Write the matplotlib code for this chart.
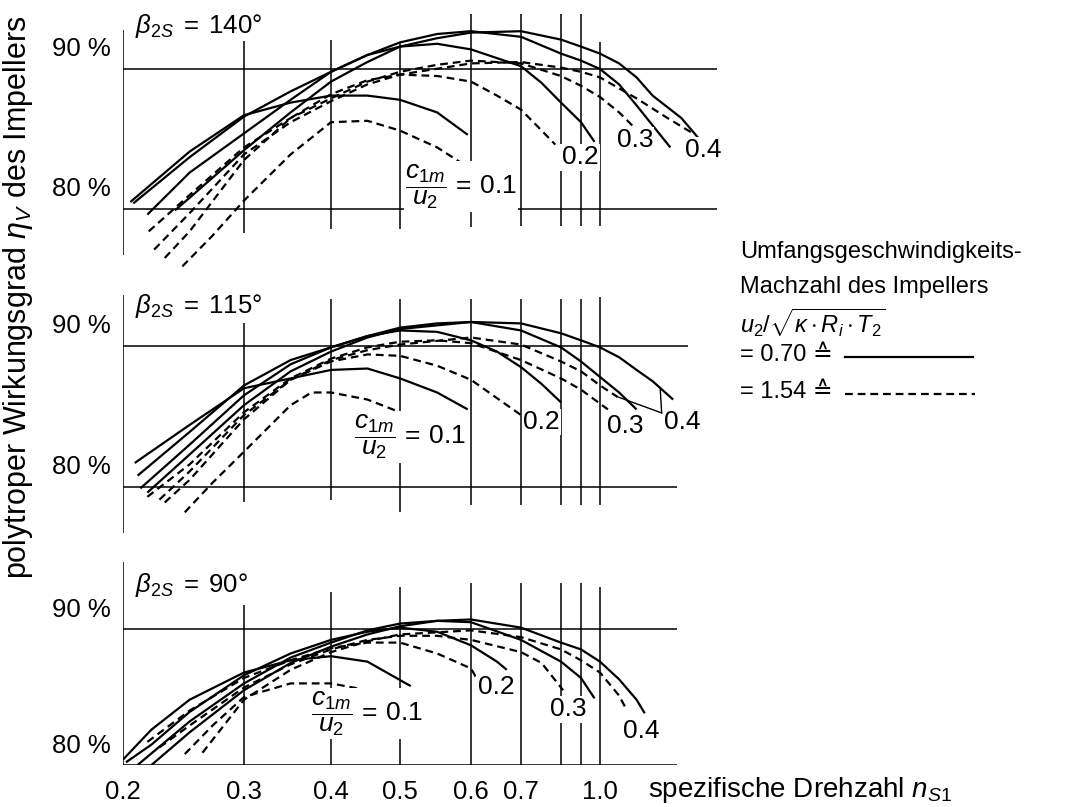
import numpy as np
import matplotlib
matplotlib.use("Agg")
import matplotlib.pyplot as plt
from matplotlib.lines import Line2D
from matplotlib.ticker import NullLocator

plt.rcParams['font.family'] = ['Liberation Sans', 'DejaVu Sans']
plt.rcParams['mathtext.fontset'] = 'custom'
plt.rcParams['mathtext.rm'] = 'Liberation Sans'
plt.rcParams['mathtext.it'] = 'Liberation Sans:italic'
plt.rcParams['mathtext.bf'] = 'Liberation Sans:bold'

# nomogram x scale (n_S1 value -> distance from 0.2 in px)
scale_ns = [0.1, 0.2, 0.3, 0.4, 0.5, 0.6, 0.7, 0.8, 0.9, 1.0, 2.0, 5.0]
scale_pos = [-207, 0, 121, 208, 277, 348, 398, 438, 458, 477, 616, 799]

xtick_vals = [0.2, 0.3, 0.4, 0.5, 0.6, 0.7, 1.0]
xtick_labels = ['0.2', '0.3', '0.4', '0.5', '0.6', '0.7', '1.0']
grid_ns = [0.3, 0.4, 0.5, 0.6, 0.7, 0.8, 0.9, 1.0]
ref_levels = [78.4, 88.4]

# ---- beta_2S = 140 deg ----
ns_140_s1 = [0.205, 0.25, 0.3, 0.35, 0.4, 0.45, 0.5, 0.55, 0.595]
eta_140_s1 = [78.9, 82.5, 85.1, 86.0, 86.5, 86.5, 86.2, 85.3, 83.7]
ns_140_s2 = [0.207, 0.25, 0.3, 0.35, 0.4, 0.45, 0.5, 0.55, 0.6, 0.7, 0.75, 0.8, 0.9, 0.97]
eta_140_s2 = [78.8, 82.1, 85.0, 86.8, 88.2, 89.4, 90.0, 90.2, 89.8, 88.6, 87.4, 86.0, 84.6, 83.2]
ns_140_s3 = [0.217, 0.25, 0.3, 0.35, 0.4, 0.45, 0.5, 0.55, 0.6, 0.7, 0.8, 0.9, 1.0, 1.1, 1.2, 1.42]
eta_140_s3 = [78.0, 81.0, 83.8, 86.2, 88.2, 89.4, 90.3, 90.9, 91.1, 90.7, 89.5, 89.0, 88.4, 87.3, 85.8, 82.8]
ns_140_s4 = [0.238, 0.25, 0.3, 0.35, 0.4, 0.45, 0.5, 0.55, 0.6, 0.7, 0.8, 0.9, 1.0, 1.1, 1.2, 1.3, 1.5, 1.65]
eta_140_s4 = [78.3, 79.2, 82.6, 85.3, 87.5, 88.9, 90.0, 90.6, 91.0, 91.1, 90.5, 90.0, 89.5, 88.8, 87.8, 86.5, 84.9, 83.3]
ns_140_d1 = [0.244, 0.27, 0.3, 0.35, 0.4, 0.45, 0.5, 0.55, 0.595]
eta_140_d1 = [74.3, 76.5, 79.0, 82.3, 84.6, 84.7, 84.0, 82.8, 81.4]
ns_140_d2 = [0.23, 0.25, 0.3, 0.35, 0.4, 0.45, 0.5, 0.55, 0.6, 0.65, 0.7, 0.75, 0.785]
eta_140_d2 = [74.9, 76.8, 81.9, 84.9, 86.6, 87.6, 88.0, 87.9, 87.5, 86.5, 85.5, 84.0, 83.0]
ns_140_d3 = [0.218, 0.25, 0.3, 0.35, 0.4, 0.45, 0.5, 0.55, 0.6, 0.7, 0.8, 0.9, 1.0, 1.1, 1.18]
eta_140_d3 = [76.8, 79.4, 82.8, 84.9, 86.3, 87.5, 88.2, 88.7, 89.0, 88.8, 87.9, 87.2, 86.4, 85.3, 84.3]
ns_140_d4 = [0.222, 0.25, 0.3, 0.35, 0.4, 0.45, 0.5, 0.6, 0.7, 0.8, 0.9, 1.0, 1.2, 1.4, 1.59]
eta_140_d4 = [75.5, 78.1, 82.3, 84.6, 86.1, 87.3, 88.0, 88.8, 88.9, 88.5, 88.2, 87.8, 86.3, 84.9, 83.8]

# ---- beta_2S = 115 deg ----
ns_115_s1 = [0.208, 0.25, 0.3, 0.35, 0.4, 0.45, 0.5, 0.55, 0.595]
eta_115_s1 = [80.1, 82.8, 85.4, 86.1, 86.7, 86.8, 86.1, 85.1, 83.9]
ns_115_s2 = [0.21, 0.25, 0.3, 0.35, 0.4, 0.45, 0.5, 0.55, 0.6, 0.65, 0.7, 0.75, 0.8]
eta_115_s2 = [79.2, 82.3, 85.6, 87.4, 88.3, 89.1, 89.5, 89.4, 88.8, 88.0, 86.9, 85.7, 84.4]
ns_115_s3 = [0.212, 0.25, 0.3, 0.35, 0.4, 0.45, 0.5, 0.55, 0.6, 0.7, 0.8, 0.9, 1.0, 1.1, 1.2]
eta_115_s3 = [78.3, 81.4, 84.9, 87.1, 88.3, 89.1, 89.7, 90.0, 90.1, 89.5, 88.3, 87.3, 86.2, 85.1, 83.9]
ns_115_s4 = [0.217, 0.25, 0.3, 0.35, 0.4, 0.45, 0.5, 0.6, 0.7, 0.8, 0.9, 1.0, 1.1, 1.2, 1.3, 1.44]
eta_115_s4 = [78.0, 80.7, 84.2, 86.6, 88.0, 89.0, 89.6, 90.1, 90.0, 89.3, 88.8, 88.3, 87.6, 86.7, 85.9, 84.6]
ns_115_d1 = [0.246, 0.27, 0.3, 0.35, 0.375, 0.4, 0.45, 0.5, 0.53]
eta_115_d1 = [76.6, 78.7, 80.9, 84.2, 85.1, 85.1, 84.6, 83.7, 83.1]
ns_115_d2 = [0.23, 0.25, 0.3, 0.35, 0.4, 0.45, 0.5, 0.55, 0.6, 0.65, 0.7]
eta_115_d2 = [77.3, 78.9, 83.2, 86.0, 87.3, 87.8, 87.7, 87.0, 86.0, 84.7, 83.5]
ns_115_d3 = [0.217, 0.25, 0.3, 0.35, 0.4, 0.45, 0.5, 0.55, 0.6, 0.7, 0.8, 0.9, 1.04]
eta_115_d3 = [77.7, 80.0, 83.7, 86.1, 87.5, 88.3, 88.7, 88.8, 88.6, 87.4, 86.1, 85.3, 83.9]
ns_115_d4 = [0.226, 0.25, 0.3, 0.35, 0.4, 0.45, 0.5, 0.6, 0.7, 0.8, 0.9, 1.0, 1.09]
eta_115_d4 = [77.5, 79.5, 83.5, 86.0, 87.4, 88.1, 88.5, 89.0, 88.5, 87.3, 86.6, 85.6, 84.8]
# leader lines from the "0.4" label to the two 0.4 curves
leader_115_ns = [1.09, 1.36, 1.35]
leader_115_eta = [84.8, 83.65, 85.4]

# ---- beta_2S = 90 deg ----
ns_90_s1 = [0.2, 0.22, 0.25, 0.3, 0.35, 0.4, 0.45, 0.514]
eta_90_s1 = [78.8, 81.0, 83.2, 85.2, 86.1, 86.4, 86.0, 84.2]
ns_90_s2 = [0.202, 0.22, 0.25, 0.3, 0.35, 0.4, 0.45, 0.5, 0.55, 0.6, 0.65, 0.67]
eta_90_s2 = [78.6, 79.9, 82.3, 85.0, 86.6, 87.6, 88.2, 88.5, 88.2, 87.2, 86.0, 85.4]
ns_90_s3 = [0.21, 0.25, 0.3, 0.35, 0.4, 0.45, 0.5, 0.55, 0.6, 0.7, 0.8, 0.9, 0.97]
eta_90_s3 = [78.4, 81.6, 84.4, 86.3, 87.4, 88.3, 88.8, 89.0, 88.9, 87.6, 86.0, 84.8, 83.3]
ns_90_s4 = [0.22, 0.25, 0.3, 0.35, 0.4, 0.45, 0.5, 0.55, 0.6, 0.7, 0.8, 0.9, 1.0, 1.1, 1.2, 1.25]
eta_90_s4 = [78.4, 80.8, 83.9, 85.9, 87.1, 88.0, 88.6, 89.0, 89.1, 88.5, 87.4, 86.9, 86.0, 84.7, 83.2, 82.2]
ns_90_d1 = [0.246, 0.27, 0.3, 0.35, 0.4, 0.45, 0.48]
eta_90_d1 = [79.2, 81.3, 83.4, 84.4, 84.4, 83.9, 83.2]
ns_90_d2 = [0.217, 0.25, 0.3, 0.35, 0.4, 0.45, 0.5, 0.55, 0.6, 0.61]
eta_90_d2 = [80.1, 82.4, 84.8, 86.1, 87.0, 87.4, 87.4, 86.6, 85.5, 84.8]
ns_90_d3 = [0.226, 0.25, 0.3, 0.35, 0.4, 0.45, 0.5, 0.55, 0.6, 0.7, 0.75, 0.81]
eta_90_d3 = [79.7, 81.3, 84.1, 85.8, 86.9, 87.6, 87.9, 87.9, 87.6, 86.7, 85.9, 83.9]
ns_90_d4 = [0.261, 0.3, 0.35, 0.4, 0.45, 0.5, 0.6, 0.7, 0.8, 0.9, 1.0, 1.1, 1.14]
eta_90_d4 = [79.3, 83.2, 85.4, 86.7, 87.5, 88.0, 88.3, 87.8, 86.9, 86.1, 85.2, 83.5, 82.5]


def fwd(x):
    return np.interp(np.log(np.clip(x, 1e-6, None)), np.log(scale_ns), scale_pos)


def inv(p):
    return np.exp(np.interp(p, scale_pos, np.log(scale_ns)))


W, H = 1072, 807
fig = plt.figure(figsize=(W / 100, H / 100), dpi=100)
FS_TICK = 18.5
FS_LAB = 19
FS_LEG = 17
LW = 1.6
DASH = (0, (3.5, 2.2))
label_box = dict(facecolor='white', edgecolor='none', pad=1.0)

panels = [
    dict(beta='140', top=14.4, ppp=14.0, ylim=(74.0, 92.3),
         solid=[(ns_140_s1, eta_140_s1), (ns_140_s2, eta_140_s2),
                (ns_140_s3, eta_140_s3), (ns_140_s4, eta_140_s4)],
         dashed=[(ns_140_d1, eta_140_d1), (ns_140_d2, eta_140_d2),
                 (ns_140_d3, eta_140_d3), (ns_140_d4, eta_140_d4)],
         axis=(75.1, 91.2),
         gtop=[90.4, 90.5, 90.3, 92.3, 92.3, 92.3, 92.3, 90.3],
         gbot=[76.7, 77.0, 77.0, 77.1, 77.2, 77.2, 77.2, 77.2],
         hend=[1.79, 1.79],
         beta_pos=(0.208, 91.5), frac_pos=(0.507, 80.0),
         lab=[('0.2', 0.895, 82.1), ('0.3', 1.19, 83.3), ('0.4', 1.67, 82.6)]),
    dict(beta='115', top=295.2, ppp=14.1, ylim=(75.0, 92.0),
         solid=[(ns_115_s1, eta_115_s1), (ns_115_s2, eta_115_s2),
                (ns_115_s3, eta_115_s3), (ns_115_s4, eta_115_s4)],
         dashed=[(ns_115_d1, eta_115_d1), (ns_115_d2, eta_115_d2),
                 (ns_115_d3, eta_115_d3), (ns_115_d4, eta_115_d4)],
         axis=(75.1, 92.0),
         gtop=[90.0, 91.7, 91.7, 91.7, 91.7, 91.7, 91.7, 91.9],
         gbot=[77.3, 77.5, 76.6, 77.1, 77.1, 77.1, 77.1, 77.1],
         hend=[1.47, 1.55],
         beta_pos=(0.208, 91.2), frac_pos=(0.431, 81.95),
         lab=[('0.2', 0.75, 83.0), ('0.3', 1.133, 82.7), ('0.4', 1.51, 83.0)]),
    dict(beta='90', top=561.0, ppp=13.6, ylim=(78.4, 93.4),
         solid=[(ns_90_s1, eta_90_s1), (ns_90_s2, eta_90_s2),
                (ns_90_s3, eta_90_s3), (ns_90_s4, eta_90_s4)],
         dashed=[(ns_90_d1, eta_90_d1), (ns_90_d2, eta_90_d2),
                 (ns_90_d3, eta_90_d3), (ns_90_d4, eta_90_d4)],
         axis=(78.4, 93.3),
         gtop=[90.2, 91.1, 91.5, 91.8, 91.8, 91.8, 91.8, 91.5],
         gbot=[78.4] * 8,
         hend=[1.47, 1.47],
         beta_pos=(0.208, 91.6), frac_pos=(0.375, 82.2),
         lab=[('0.2', 0.648, 84.1), ('0.3', 0.833, 82.5), ('0.4', 1.23, 80.9)]),
]

x0_px = 123
width_px = fwd(1.8) - fwd(0.2)

axes = []
for i, p in enumerate(panels):
    hgt = (p['ylim'][1] - p['ylim'][0]) * p['ppp']
    ax = fig.add_axes([x0_px / W, 1 - (p['top'] + hgt) / H, width_px / W, hgt / H])
    ax.set_xscale('function', functions=(fwd, inv))
    ax.set_xlim(0.2, 1.8)
    ax.set_ylim(*p['ylim'])
    for s in ax.spines.values():
        s.set_visible(False)
    ax.xaxis.set_minor_locator(NullLocator())
    ax.yaxis.set_minor_locator(NullLocator())

    # frame lines of the nomogram
    ax.vlines(0.2, *p['axis'], color='black', lw=1.1)
    ax.vlines(grid_ns, p['gbot'], p['gtop'], color='black', lw=1.1)
    for lev, xe in zip(ref_levels, p['hend']):
        ax.hlines(lev, 0.2, xe, color='black', lw=1.1)

    for xs, ys in p['solid']:
        ax.plot(xs, ys, color='black', lw=LW, solid_capstyle='butt', zorder=3)
    for xs, ys in p['dashed']:
        ax.plot(xs, ys, color='black', lw=LW, linestyle=DASH, zorder=3)

    ax.set_yticks([80, 90])
    ax.set_yticklabels(['80 %', '90 %'])
    ax.tick_params(axis='y', length=0, pad=9, labelsize=FS_TICK)
    if i < 2:
        ax.set_xticks([])
    else:
        ax.set_xticks(xtick_vals)
        ax.set_xticklabels(xtick_labels)
        ax.tick_params(axis='x', length=0, pad=11, labelsize=FS_TICK)

    ax.text(*p['beta_pos'], r'$\beta_{2S}\;=\;\mathrm{%s°}$' % p['beta'], fontsize=FS_TICK,
            ha='left', va='center', zorder=5)
    ax.text(*p['frac_pos'], r'$\dfrac{c_{1m}}{u_2}\,=\,\mathrm{0.1}$', fontsize=FS_LAB,
            ha='left', va='center', bbox=label_box, zorder=5)
    for t, lx, ly in p['lab']:
        ax.text(lx, ly, t, fontsize=FS_LAB, ha='center', va='center',
                bbox=label_box, zorder=5)
    axes.append(ax)

# leader lines in the middle panel
axes[1].plot(leader_115_ns[:2], leader_115_eta[:2], color='black', lw=1.0, zorder=6)
axes[1].plot(leader_115_ns[1:], leader_115_eta[1:], color='black', lw=1.0, zorder=6)

fig.text(18 / W, 1 - 297 / H, r'polytroper Wirkungsgrad $\eta_V$ des Impellers',
         rotation=90, ha='center', va='center', fontsize=22)
fig.text(648 / W, 1 - 790 / H, r'spezifische Drehzahl $n_{S1}$',
         ha='left', va='center', fontsize=20)

# Mach number legend
lx = 740 / W
fig.text(lx, 1 - 252 / H, 'Umfangsgeschwindigkeits-', ha='left', va='center', fontsize=FS_LEG)
fig.text(lx, 1 - 287 / H, 'Machzahl des Impellers', ha='left', va='center', fontsize=FS_LEG)
fig.text(lx, 1 - 323 / H, r'$u_2/\sqrt{\kappa\cdot R_i\cdot T_2}$',
         ha='left', va='center', fontsize=FS_LEG)
fig.text(lx, 1 - 355 / H, '= 0.70 \u2259', ha='left', va='center', fontsize=FS_LEG)
fig.text(lx, 1 - 392 / H, '= 1.54 \u2259', ha='left', va='center', fontsize=FS_LEG)
fig.add_artist(Line2D([845 / W, 973 / W], [1 - 357 / H, 1 - 357 / H],
                      color='black', lw=LW))
fig.add_artist(Line2D([845 / W, 975 / W], [1 - 394 / H, 1 - 394 / H],
                      color='black', lw=LW, linestyle=DASH))

fig.savefig('out.png', dpi=100)
